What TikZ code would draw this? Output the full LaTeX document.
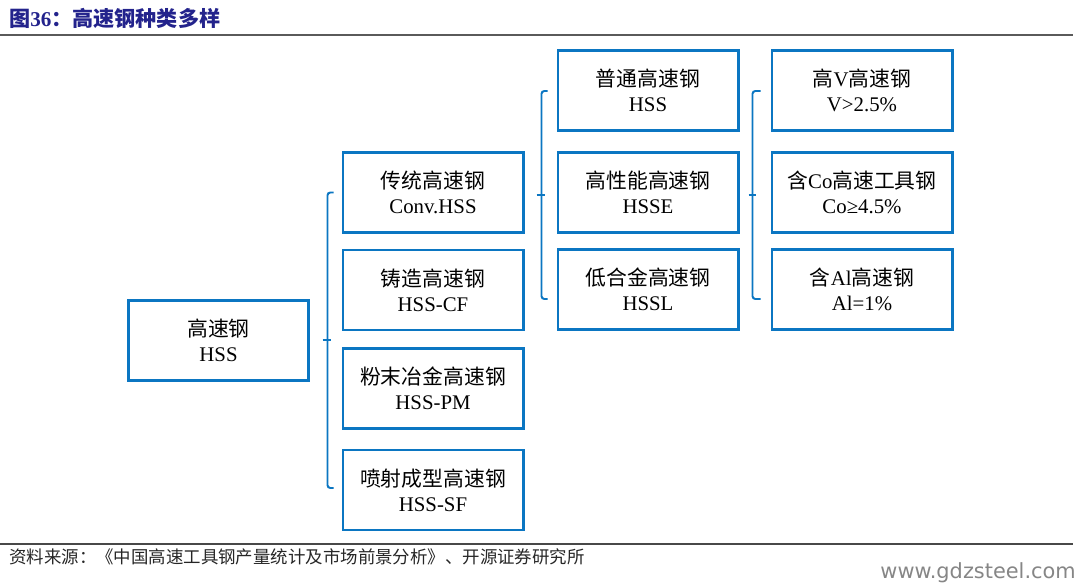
\documentclass[tikz,border=0pt]{standalone}
\usepackage{fontspec}
\setmainfont{Liberation Serif}
\newfontfamily\cjk{Noto Sans CJK SC}
\newfontfamily\wmfont{DejaVu Sans}
\usepackage{xcolor}
\usepackage{tikz}
\usetikzlibrary{calc}

\definecolor{boxblue}{HTML}{0B76C2}
\definecolor{titleblue}{HTML}{23238C}
\definecolor{rulegray}{HTML}{5A5A5A}
\newcommand{\zh}[1]{{\cjk #1}}

\begin{document}
\begin{tikzpicture}[x=0.025cm, y=-0.025cm,
        every node/.style={font=\fontsize{14.8}{18}\selectfont},
        kind/.style={draw=boxblue, line width=2.1pt, minimum width=4.5cm, minimum height=2cm, align=center, inner sep=0pt},
        brk/.style={draw=boxblue, line width=1.4pt, rounded corners=2pt}]
        \useasboundingbox (0,0) rectangle (1080,583);

        % title and rules
        \node[anchor=west, inner sep=0pt, text=titleblue, font=\fontsize{15}{18}\selectfont\bfseries] (title) at (9,18) {\zh{图}36\zh{：高速钢种类多样}};
        \draw[rulegray, line width=1.1pt] (0,35) -- (1073,35);
        \draw[rulegray!80!black, line width=1.1pt] (0,544) -- (1073,544);

        % root
        \node[kind] (hss) at (218.5,340.5) {\zh{高速钢}\\HSS};

        % second column
        \node[kind] (conv) at (433,192.5) {\zh{传统高速钢}\\Conv.HSS};
        \node[kind] (cf) at (433,290) {\zh{铸造高速钢}\\HSS-CF};
        \node[kind] (pm) at (433,388.5) {\zh{粉末冶金高速钢}\\HSS-PM};
        \node[kind] (sf) at (433,490) {\zh{喷射成型高速钢}\\HSS-SF};

        % third column
        \node[kind] (gen) at (648,90.5) {\zh{普通高速钢}\\HSS};
        \node[kind] (hsse) at (648,192.5) {\zh{高性能高速钢}\\HSSE};
        \node[kind] (hssl) at (648,289.5) {\zh{低合金高速钢}\\HSSL};

        % fourth column
        \node[kind] (vhss) at (862,90.5) {\zh{高}V\zh{高速钢}\\V>2.5\%};
        \node[kind] (cohss) at (862,192.5) {\zh{含}Co\zh{高速工具钢}\\Co≥4.5\%};
        \node[kind] (alhss) at (862,289.5) {\zh{含}Al\zh{高速钢}\\Al=1\%};

        % braces
        \coordinate (n1) at ($(hss.east)+(12.5,-0.5)$);
        \draw[brk] ($(conv.west)+(-8,0)$) -- ++(-6,0) |- ($(sf.west)+(-8,-2)$);
        \draw[brk] (n1) -- ++(8,0);

        \coordinate (n2) at ($(conv.east)+(12,2.5)$);
        \draw[brk] ($(gen.west)+(-9,0.5)$) -- ++(-6,0) |- ($(hssl.west)+(-9,9.5)$);
        \draw[brk] (n2) -- ++(8,0);

        \coordinate (n3) at ($(hsse.east)+(9,2.5)$);
        \draw[brk] ($(vhss.west)+(-10,0.5)$) -- ++(-8,0) |- ($(alhss.west)+(-10,9.5)$);
        \draw[brk] (n3) -- ++(7,0);

        % source and mark
        \node[anchor=west, inner sep=0pt, text=black!85, font=\cjk\fontsize{12.4}{14}\selectfont] (src) at (9,557) {资料来源：《中国高速工具钢产量统计及市场前景分析》、开源证券研究所};
        \node[anchor=base east, inner sep=0pt, text=gray!95, font=\wmfont\fontsize{14.85}{16}\selectfont] (wm) at (1076,578) {www.gdzsteel.com};
    \end{tikzpicture}
\end{document}
